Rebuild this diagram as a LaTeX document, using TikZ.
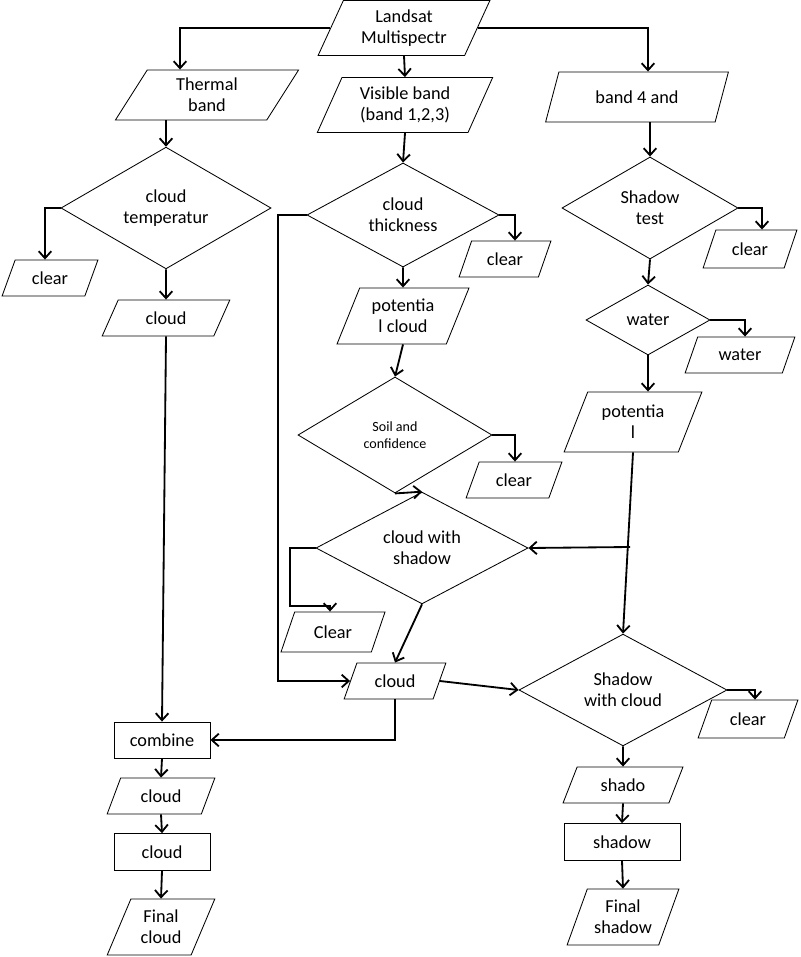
\documentclass[tikz,border=0pt]{standalone}
\usepackage{fontspec}
\setmainfont{Carlito}
\usetikzlibrary{shapes.geometric,arrows.meta}
\tikzset{
  para/.style={trapezium, trapezium left angle=65, trapezium right angle=115,
    trapezium stretches=true, draw, line width=0.6pt, align=center, inner sep=1pt},
  dia/.style={diamond, draw, line width=0.6pt, align=center, inner sep=0pt},
  box/.style={rectangle, draw, line width=0.6pt, align=center},
  flow/.style={line width=1.3pt, -{Straight Barb[length=5pt,width=9pt]}},
}
\begin{document}
\begin{tikzpicture}[x=0.025cm, y=-0.025cm, font=\fontsize{13}{15}\selectfont]
\useasboundingbox (0,0) rectangle (800,957);

% top
\node[para, minimum width=4.3cm, minimum height=1.375cm] (land) at (404,28) {Landsat\\Multispectr};
\node[para, minimum width=4.6cm, minimum height=1.25cm] (therm) at (207,95) {Thermal\\band};
\node[para, minimum width=4.4cm, minimum height=1.375cm] (vis) at (405,105) {Visible band\\(band 1,2,3)};
\node[para, minimum width=4.6cm, minimum height=1.25cm] (b4) at (637,97) {band 4 and};

% thermal branch
\node[dia, minimum width=5.25cm, minimum height=2.75cm] (temp) at (166,208) {cloud\\temperatur};
\node[para, minimum width=2.4cm, minimum height=0.9cm] (clearA) at (50,278) {clear};
\node[para, minimum width=3.2cm, minimum height=0.9cm] (cloudA) at (166,318) {cloud};

% visible branch
\node[dia, minimum width=4.8cm, minimum height=2.6cm] (thick) at (403,215) {cloud\\thickness};
\node[para, minimum width=2.3cm, minimum height=0.9cm] (clearB) at (505,259) {clear};
\node[para, minimum width=3.3cm, minimum height=1.4cm] (potC) at (403,316) {potentia\\l cloud};
\node[dia, minimum width=4.85cm, minimum height=2.9cm, font=\fontsize{10}{12}\selectfont] (soil) at (395,435) {Soil and\\confidence};
\node[para, minimum width=2.4cm, minimum height=0.9cm] (clearC) at (514,480) {clear};
\node[dia, minimum width=5.3cm, minimum height=2.6cm] (cws) at (422,548) {cloud with\\shadow};
\node[para, minimum width=2.6cm, minimum height=1cm] (clearD) at (333,632) {Clear};
\node[para, minimum width=2.55cm, minimum height=0.9cm] (cloudB) at (395,681) {cloud};

% band 4 branch
\node[dia, minimum width=4.4cm, minimum height=2.55cm] (shtest) at (650,208) {Shadow\\test};
\node[para, minimum width=2.35cm, minimum height=0.95cm] (clearE) at (750,249) {clear};
\node[dia, minimum width=3.1cm, minimum height=1.75cm] (wat) at (648,320) {water};
\node[para, minimum width=2.75cm, minimum height=0.9cm] (water) at (740,355) {water};
\node[para, minimum width=3.45cm, minimum height=1.5cm] (potS) at (633,422) {potentia\\l};
\node[dia, minimum width=5.2cm, minimum height=2.75cm] (swc) at (623,690) {Shadow\\with cloud};
\node[para, minimum width=2.5cm, minimum height=0.95cm] (clearF) at (748,719) {clear};

% outputs
\node[box, minimum width=2.4cm, minimum height=0.9cm] (comb) at (162,740) {combine};
\node[para, minimum width=2.7cm, minimum height=0.9cm] (cloudC) at (161,796) {cloud};
\node[box, minimum width=2.4cm, minimum height=0.92cm] (cloudD) at (162,852) {cloud};
\node[para, minimum width=2.7cm, minimum height=1.4cm] (fcloud) at (161,927) {Final\\cloud};
\node[para, minimum width=3cm, minimum height=0.9cm] (shado) at (623,785) {shado};
\node[box, minimum width=2.9cm, minimum height=0.92cm] (shad) at (622,842) {shadow};
\node[para, minimum width=2.8cm, minimum height=1.4cm] (fshad) at (623,917) {Final\\shadow};

\coordinate (potSmid) at (630,547);

% connectors
\draw[flow] (land.west) -| (therm.north -| 180,0);
\draw[flow] (land.east) -| (b4.north -| 648,0);
\draw[flow] (land.south) -- (vis.north);
\draw[flow] (therm.south -| temp.north) -- (temp.north);
\draw[flow] (temp.west) -| (clearA.north -| 45,0);
\draw[flow] (temp.south) -- (cloudA.north);
\draw[flow] (cloudA.south) -- (comb.north);
\draw[flow] (vis.south) -- (thick.north);
\draw[flow] (thick.west) -- (278,215) |- (cloudB.west);
\draw[flow] (thick.east) -| (clearB.north -| 515,0);
\draw[flow] (thick.south) -- (potC.north);
\draw[flow] (potC.south) -- (soil.north);
\draw[flow] (soil.east) -| (clearC.north -| 515,0);
\draw[flow] (soil.south) -- (cws.north);
\draw[flow] (cws.west) -- (290,548) |- (330,606) -- (clearD.north -| 330,0);
\draw[flow] (cws.south) -- (cloudB.north);
\draw[flow] (cloudB.east) -- (swc.west);
\draw[flow] (cloudB.south) |- (comb.east);
\draw[flow] (b4.south -| shtest.north) -- (shtest.north);
\draw[flow] (shtest.east) -| (clearE.north -| 762,0);
\draw[flow] (shtest.south) -- (wat.north);
\draw[flow] (wat.east) -| (water.north -| 745,0);
\draw[flow] (wat.south) -- (potS.north -| wat.south);
\draw[flow] (potS.south) -- (swc.north);
\draw[flow] (potSmid) -- (cws.east);
\draw[flow] (swc.east) -| (clearF.north -| 755,0);
\draw[flow] (swc.south) -- (shado.north);
\draw[flow] (shado.south) -- (shad.north);
\draw[flow] (shad.south) -- (fshad.north);
\draw[flow] (comb.south) -- (cloudC.north);
\draw[flow] (cloudC.south) -- (cloudD.north);
\draw[flow] (cloudD.south) -- (fcloud.north);
\end{tikzpicture}
\end{document}
